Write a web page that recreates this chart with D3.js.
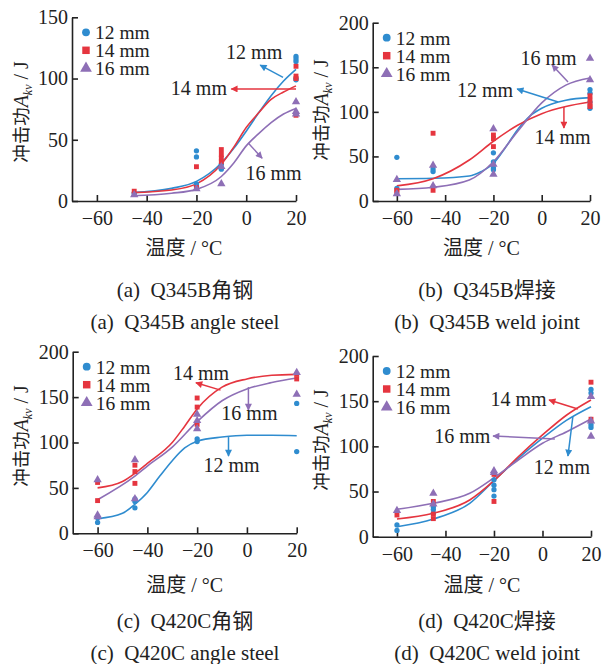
<!DOCTYPE html>
<html>
<head>
<meta charset="utf-8">
<script src="https://cdn.jsdelivr.net/npm/d3@7"></script>
<style>
  body { margin: 0; background: #fff; }
  text { font-family: "Liberation Serif", "Noto Sans CJK SC", serif; fill: #222; }
</style>
</head>
<body>
<div id="chart"></div>
<script>

// Shared categories / ticks
const temps = [-60, -40, -20, 0, 20];
const sizes = ["12 mm", "14 mm", "16 mm"];
const yTicksA = [0, 50, 100, 150];
const yTicks = [0, 50, 100, 150, 200];

// (a) Q345B angle steel -- test points [temperature, impact energy]
const a12 = [[-45, 6], [-20, 41], [-20, 36], [-20, 14], [-20, 12], [-10, 30], [-10, 27], [-10, 26],
    [20, 118], [20, 116], [20, 114], [20, 100], [20, 99]];
const a14 = [[-45, 8], [-20, 28], [-20, 11], [-10, 42], [-10, 38], [-10, 35], [-10, 32],
    [20, 110], [20, 102], [20, 100], [20, 70]];
const a16 = [[-45, 5], [-20, 10], [-10, 28], [-10, 14], [20, 81], [20, 73], [20, 71]];
// (a) fitted curves
const aFit12 = [[-46, 6.8], [-30, 10.3], [-20, 16], [-10, 31], [-5, 43], [0, 57], [5, 72], [10, 86], [15, 98], [20, 107.5]];
const aFit14 = [[-46, 6.8], [-30, 9], [-20, 14], [-10, 30], [-5, 44], [0, 60], [5, 72], [10, 83], [15, 89], [20, 94]];
const aFit16 = [[-46, 4.3], [-30, 6.3], [-20, 9.5], [-10, 20], [-5, 31], [0, 45], [5, 55], [10, 64], [15, 71], [20, 75.6]];

// (b) Q345B weld joint
const b12 = [[-60, 49], [-60, 14], [-45, 36], [-45, 33], [-20, 54], [-20, 44], [-20, 37], [-20, 35],
    [20, 125], [20, 121], [20, 111], [20, 104]];
const b14 = [[-60, 12], [-60, 10], [-45, 76], [-45, 12], [-20, 74], [-20, 70], [-20, 61],
    [20, 118], [20, 113], [20, 108], [20, 106]];
const b16 = [[-60, 24], [-60, 8], [-45, 40], [-45, 17], [-20, 81], [-20, 41], [-20, 30], [20, 160], [20, 136]];
const bFit12 = [[-60, 25], [-45, 25.5], [-30, 28], [-25, 33], [-20, 42], [-15, 60], [-10, 80], [-5, 95], [0, 104], [10, 113], [20, 116]];
const bFit14 = [[-60, 17], [-45, 25], [-30, 46], [-20, 67], [-10, 85], [0, 98], [10, 106], [20, 111]];
const bFit16 = [[-60, 13], [-45, 15.4], [-30, 23.5], [-20, 44], [-10, 78], [0, 110], [10, 130], [20, 138]];

// (c) Q420C angle steel
const c12 = [[-60, 17], [-60, 12], [-45, 38], [-45, 35], [-45, 28], [-20, 104], [-20, 101], [20, 143], [20, 90]];
const c14 = [[-60, 56], [-60, 36], [-45, 75], [-45, 68], [-45, 55], [-20, 149], [-20, 139], [-20, 120],
    [20, 175], [20, 170]];
const c16 = [[-60, 59], [-60, 20], [-60, 18], [-45, 81], [-45, 38], [-20, 131], [-20, 124], [-20, 115],
    [20, 177], [20, 153]];
const cFit12 = [[-60, 16], [-50, 22], [-45, 32], [-40, 45], [-35, 63], [-30, 80], [-25, 94], [-20, 101.5],
    [-10, 106], [0, 108], [10, 108], [20, 107.5]];
const cFit14 = [[-60, 50], [-50, 57], [-45, 66], [-40, 77], [-30, 100], [-25, 118], [-20, 137], [-10, 161],
    [0, 170], [10, 174], [20, 175]];
const cFit16 = [[-60, 37], [-45, 63], [-40, 74], [-30, 95], [-20, 123], [-10, 146], [0, 159], [10, 166], [20, 171]];

// (d) Q420C weld joint
const d12 = [[-60, 13], [-60, 7], [-45, 33], [-45, 30], [-45, 26], [-20, 63], [-20, 57], [-20, 52], [-20, 45],
    [20, 163], [20, 159], [20, 124], [20, 121]];
const d14 = [[-60, 24], [-45, 39], [-45, 25], [-45, 20], [-20, 69], [-20, 39], [20, 171], [20, 130]];
const d16 = [[-60, 29], [-45, 48], [-45, 36], [-20, 73], [-20, 71], [20, 155], [20, 128], [20, 111]];
const dFit12 = [[-60, 11], [-45, 19.6], [-30, 37], [-20, 62], [-10, 86.8], [0, 109], [10, 129], [20, 143.9]];
const dFit14 = [[-60, 19.6], [-45, 25.9], [-30, 40.6], [-20, 62], [-10, 88.5], [0, 112.6], [10, 134.7], [20, 151.3]];
const dFit16 = [[-60, 30.3], [-45, 37], [-30, 48], [-20, 65.3], [-10, 84.9], [0, 103.4], [10, 116.2], [20, 130.3]];

// Curve labels: [series index, label T, label V, arrow from T, V, arrow to T, V]
const aNotes = [[0, 3.2, 121.5, 14.8, 101, 5.6, 110.9], [1, -19, 92, 20, 91.5, -6, 91.5], [2, 11, 22.8, 0.8, 47.3, 6.4, 35]];
const bNotes = [[2, 2.8, 160.4, 10.9, 133.5, 4.3, 152.6], [0, -23.5, 124.5, 6.8, 111, -10.2, 125.6], [1, 8.6, 71.8, 9.2, 105.4, 9.2, 81.9]];
const cNotes = [[1, -18.4, 176.4, -10.6, 157.7, -20.5, 165.8], [2, 1, 132.4, 0.6, 161, 0.6, 135.7], [0, -6.2, 75.2, -7.4, 106, -7.4, 85]];
const dNotes = [[1, -9.9, 152.4, 14.6, 141.3, 2.7, 151.3], [2, -33.1, 111.5, 5.1, 108.1, -20.4, 111.5], [0, 8, 77.1, 12.5, 132.5, 10.5, 89.3]];

// Panel captions: Chinese line, English line
const capA = ["(a)  Q345B角钢", "(a)  Q345B angle steel"];
const capB = ["(b)  Q345B焊接", "(b)  Q345B weld joint"];
const capC = ["(c)  Q420C角钢", "(c)  Q420C angle steel"];
const capD = ["(d)  Q420C焊接", "(d)  Q420C weld joint"];

const colors = ["#2f8ccf", "#e5353f", "#8e6fb6"];
const shapes = [d3.symbolCircle, d3.symbolSquare, d3.symbolTriangle];

const svg = d3.select("#chart").append("svg")
    .attr("width", 607)
    .attr("height", 664);

svg.append("rect").attr("width", 607).attr("height", 664).attr("fill", "#fff");

// Arrow heads, one per colour
let defs = svg.append("defs");
colors.forEach((c, i) => {
    defs.append("marker")
        .attr("id", "arrow" + i)
        .attr("viewBox", "0 0 10 10")
        .attr("refX", 9)
        .attr("refY", 5)
        .attr("markerWidth", 10)
        .attr("markerHeight", 7)
        .attr("markerUnits", "userSpaceOnUse")
        .attr("orient", "auto")
        .append("path")
        .attr("d", "M0,0L10,5L0,10z")
        .attr("fill", c);
});

const panels = [
    {xr: [72, 296], yr: [201, 17.3], ymax: 150, yticks: yTicksA, series: [a12, a14, a16], fits: [aFit12, aFit14, aFit16], notes: aNotes,
        ylab: [20.7, 112], xlab: 255, cap: [185, 297, 329], capText: capA},
    {xr: [372.7, 590], yr: [201, 22.7], ymax: 200, yticks: yTicks, series: [b12, b14, b16], fits: [bFit12, bFit14, bFit16], notes: bNotes,
        ylab: [320.7, 110], xlab: 255, cap: [487, 297, 329], capText: capB},
    {xr: [72.7, 296.7], yr: [533.3, 351.7], ymax: 200, yticks: yTicks, series: [c12, c14, c16], fits: [cFit12, cFit14, cFit16], notes: cNotes,
        ylab: [20.7, 436], xlab: 592, cap: [185, 628, 660], capText: capC},
    {xr: [372.7, 591], yr: [536.7, 356], ymax: 200, yticks: yTicks, series: [d12, d14, d16], fits: [dFit12, dFit14, dFit16], notes: dNotes,
        ylab: [320.7, 440], xlab: 592, cap: [487, 628, 660], capText: capD}
];

panels.forEach(drawPanel);

function drawPanel(p) {
    // Axis runs from -70 to 20 degrees
    let x = d3.scaleLinear()
        .domain([-70, 20])
        .range(p.xr);

    let y = d3.scaleLinear()
        .domain([0, p.ymax])
        .range(p.yr);

    let g = svg.append("g");

    // Axes with inward ticks
    let xAxis = g.append("g")
        .attr("transform", "translate(0," + p.yr[0] + ")")
        .call(d3.axisBottom(x).tickValues(temps).tickSizeInner(-6).tickSizeOuter(0).tickPadding(10));

    let yAxis = g.append("g")
        .attr("transform", "translate(" + p.xr[0] + ",0)")
        .call(d3.axisLeft(y).tickValues(p.yticks).tickSizeInner(-6).tickSizeOuter(0).tickPadding(4));

    [xAxis, yAxis].forEach(a => {
        a.attr("font-family", null).attr("font-size", 20);
        a.selectAll("path, line").attr("stroke", "#222").attr("stroke-width", 1.6);
        a.selectAll("text").attr("fill", "#222");
    });

    // Axis titles
    g.append("text")
        .attr("x", (p.xr[0] + p.xr[1]) / 2)
        .attr("y", p.xlab)
        .attr("text-anchor", "middle")
        .attr("font-size", 20)
        .text("温度 / °C");

    let yl = g.append("text")
        .attr("transform", "translate(" + p.ylab[0] + "," + p.ylab[1] + ") rotate(-90)")
        .attr("text-anchor", "middle")
        .attr("dy", "0.35em")
        .attr("font-size", 20);
    yl.append("tspan").attr("font-size", 18.5).text("冲击功");
    yl.append("tspan").attr("font-style", "italic").text("A");
    yl.append("tspan").attr("font-style", "italic").attr("font-size", 12).attr("dy", 4).text("kv");
    yl.append("tspan").attr("dy", -4).text(" / J");

    // Fitted curves
    let line = d3.line()
        .x(d => x(d[0]))
        .y(d => y(d[1]))
        .curve(d3.curveMonotoneX);

    p.fits.forEach((f, i) => {
        g.append("path")
            .datum(f)
            .attr("d", line)
            .attr("fill", "none")
            .attr("stroke", colors[i])
            .attr("stroke-width", 1.6);
    });

    // Test points
    let pointSize = [22, 24, 30];
    p.series.forEach((s, i) => {
        g.selectAll(".pt" + i)
            .data(s)
            .enter()
            .append("path")
            .attr("class", "pt" + i)
            .attr("transform", d => "translate(" + x(d[0]) + "," + y(d[1]) + ")")
            .attr("d", d3.symbol().type(shapes[i]).size(pointSize[i]))
            .attr("fill", colors[i]);
    });

    // Legend
    let legX = p.xr[0] + 14;
    let legY = p.yr[1] + 15;
    let legSize = [48, 56, 60];
    sizes.forEach((s, i) => {
        let ly = legY + i * 18;
        g.append("path")
            .attr("transform", "translate(" + legX + "," + ly + ")")
            .attr("d", d3.symbol().type(shapes[i]).size(legSize[i]))
            .attr("fill", colors[i]);
        g.append("text")
            .attr("x", legX + 9)
            .attr("y", ly)
            .attr("dy", "0.35em")
            .attr("font-size", 19.5)
            .text(s);
    });

    // Curve labels with arrows
    p.notes.forEach(n => {
        g.append("line")
            .attr("x1", x(n[3])).attr("y1", y(n[4]))
            .attr("x2", x(n[5])).attr("y2", y(n[6]))
            .attr("stroke", colors[n[0]])
            .attr("stroke-width", 1.5)
            .attr("marker-end", "url(#arrow" + n[0] + ")");
        g.append("text")
            .attr("x", x(n[1]))
            .attr("y", y(n[2]))
            .attr("dy", "0.35em")
            .attr("text-anchor", "middle")
            .attr("font-size", 20)
            .text(sizes[n[0]]);
    });

    // Captions, centred under the panel
    p.capText.forEach((t, i) => {
        g.append("text")
            .attr("x", p.cap[0])
            .attr("y", p.cap[1 + i])
            .attr("text-anchor", "middle")
            .attr("font-size", 21)
            .style("white-space", "pre")
            .text(t);
    });
}

</script>
</body>
</html>
